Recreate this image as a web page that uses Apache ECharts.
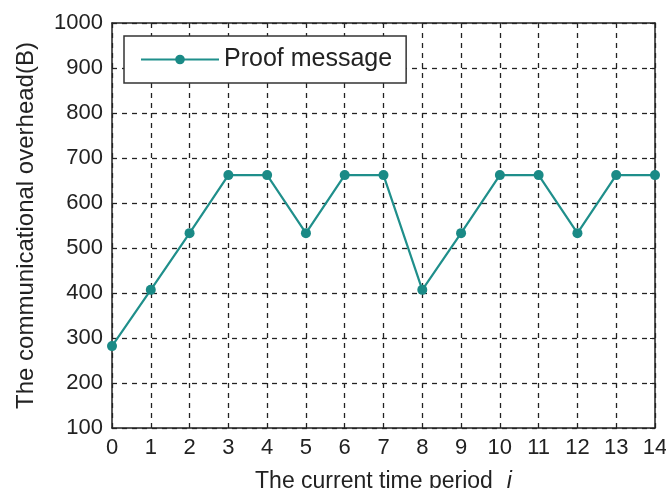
<!DOCTYPE html>
<html>
<head>
<meta charset="utf-8">
<script src="https://cdn.jsdelivr.net/npm/echarts@6/dist/echarts.min.js"></script>
<style>html,body{margin:0;padding:0;background:#fff;}#c{width:666px;height:488px;}</style>
</head>
<body>
<div id="c"></div>
<script>
const periods = [0,1,2,3,4,5,6,7,8,9,10,11,12,13,14];
const proofMessage = [282,407,533,662,662,533,662,662,407,533,662,662,533,662,662];
const yTicks = [100,1000,100]; // min, max, step
const seriesName = 'Proof message';
const xName = 'The current time period';
const yName = 'The communicational overhead(B)';

const font = 'Liberation Sans, Arial, sans-serif';
const textColor = '#222';
const gridLine = {show:true, lineStyle:{color:'#222', type:[5,5], width:1.3}};

const chart = echarts.init(document.getElementById('c'), null, {renderer:'canvas'});
chart.setOption({
  backgroundColor:'#fff',
  animation:false,
  grid:{left:112, right:11, top:23, bottom:60, show:false, containLabel:false, outerBoundsMode:'none'},
  legend:{
    left:124, top:36,
    itemWidth:78, itemHeight:12,
    padding:[11,14,11,16],
    borderColor:'#333', borderWidth:1.5,
    backgroundColor:'#fff',
    textStyle:{fontSize:25, fontFamily:font, color:textColor},
    data:[seriesName]
  },
  xAxis:[{
    type:'value', min:periods[0], max:periods[periods.length-1], interval:1,
    axisLine:{show:true, lineStyle:{color:'#222', width:1.5}},
    axisTick:{show:true, inside:true, length:5, lineStyle:{color:'#222'}},
    axisLabel:{fontSize:22, fontFamily:font, color:textColor, margin:9, formatter:v=>String(v)},
    splitLine:gridLine,
    name:'{a|' + xName + '}{b|i}',
    nameLocation:'middle', nameGap:42,
    nameTextStyle:{rich:{
      a:{fontSize:23, fontFamily:font, color:textColor},
      b:{fontSize:23, fontFamily:font, color:textColor, fontStyle:'italic', padding:[0,0,0,14]}
    }}
  },{
    type:'value', position:'top', min:periods[0], max:periods[periods.length-1], interval:1,
    axisLine:{show:true, onZero:false, lineStyle:{color:'#222', width:1.5}},
    axisTick:{show:true, inside:true, length:5, lineStyle:{color:'#222'}},
    axisLabel:{show:false}, splitLine:{show:false}
  }],
  yAxis:[{
    type:'value', min:yTicks[0], max:yTicks[1], interval:yTicks[2],
    axisLine:{show:true, lineStyle:{color:'#222', width:1.5}},
    axisTick:{show:true, inside:true, length:5, lineStyle:{color:'#222'}},
    axisLabel:{fontSize:22, fontFamily:font, color:textColor, margin:9, formatter:v=>String(v)},
    splitLine:gridLine,
    name:yName, nameLocation:'middle', nameGap:74, nameRotate:90,
    nameTextStyle:{fontSize:24, fontFamily:font, color:textColor}
  },{
    type:'value', position:'right', min:yTicks[0], max:yTicks[1], interval:yTicks[2],
    axisLine:{show:true, onZero:false, lineStyle:{color:'#222', width:1.5}},
    axisTick:{show:true, inside:true, length:5, lineStyle:{color:'#222'}},
    axisLabel:{show:false}, splitLine:{show:false}
  }],
  series:[{
    name:seriesName, type:'line',
    xAxisIndex:0, yAxisIndex:0,
    data:periods.map((p,i)=>[p, proofMessage[i]]),
    symbol:'circle', symbolSize:10,
    lineStyle:{color:'#1f8f8b', width:2.2},
    itemStyle:{color:'#1a8a86'},
    clip:false
  }]
});
</script>
</body>
</html>
